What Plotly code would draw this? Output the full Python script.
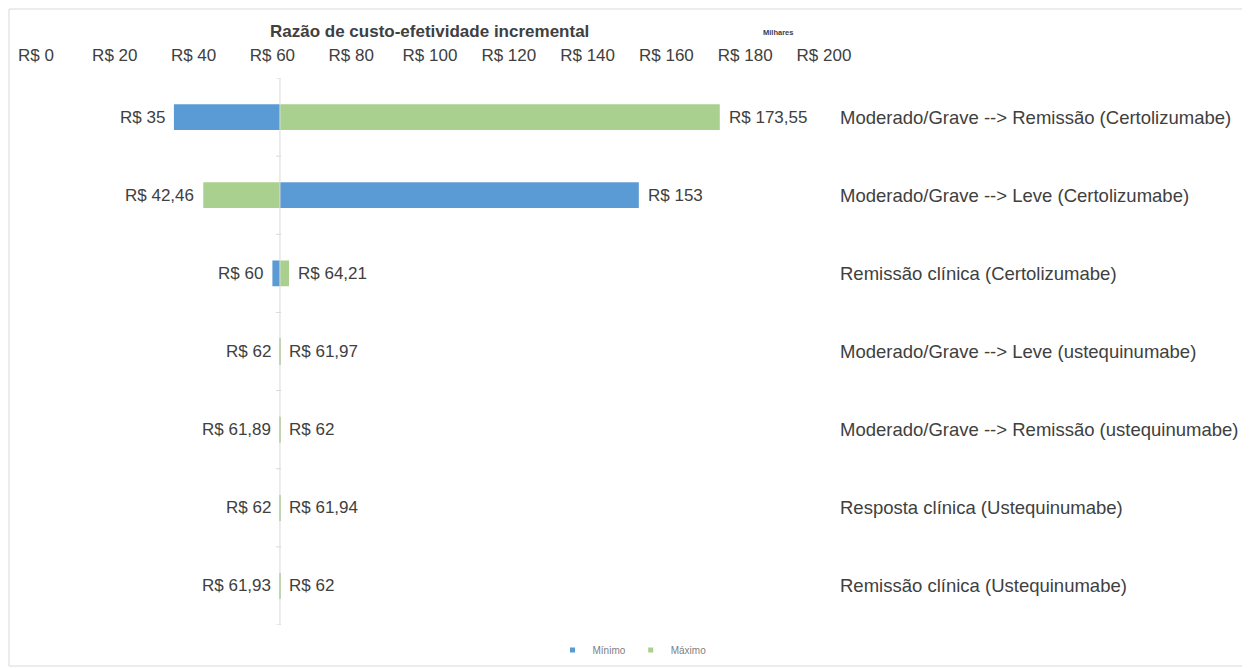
import plotly.graph_objects as go

categorias = [
    "Moderado/Grave --> Remissão (Certolizumabe)",
    "Moderado/Grave --> Leve (Certolizumabe)",
    "Remissão clínica (Certolizumabe)",
    "Moderado/Grave --> Leve (ustequinumabe)",
    "Moderado/Grave --> Remissão (ustequinumabe)",
    "Resposta clínica (Ustequinumabe)",
    "Remissão clínica (Ustequinumabe)",
]
minimo = [35.0, 153.0, 60.0, 62.0, 61.89, 62.0, 61.93]
maximo = [173.55, 42.46, 64.21, 61.97, 62.0, 61.94, 62.0]
minimo_txt = ["R$ 35", "R$ 153", "R$ 60", "R$ 62", "R$ 61,89", "R$ 62", "R$ 61,93"]
maximo_txt = ["R$ 173,55", "R$ 42,46", "R$ 64,21", "R$ 61,97", "R$ 62", "R$ 61,94", "R$ 62"]
base = 61.92
tick_vals = list(range(0, 201, 20))
tick_text = [f"R$ {v}" for v in tick_vals]

FONT = "Liberation Sans, Arial, sans-serif"
BLUE = "#5B9BD5"
GREEN = "#A9D08E"
TXT = "#404040"

OFF = 8  # page body margin
W, H = 1242, 660
ML, MT = 36 - OFF, 78 - OFF
MR = W - (824 - OFF)
MB = H - (625 - OFF)
PW, PH = W - ML - MR, H - MT - MB


def px_x(page_x):
    return (page_x - OFF - ML) / PW


def px_y(page_y):
    return (H - MB - (page_y - OFF)) / PH


fig = go.Figure()
fig.add_trace(go.Bar(
    y=categorias, x=[v - base for v in minimo], base=base, orientation="h",
    name="Mínimo", marker=dict(color=BLUE, line=dict(width=0)), width=0.33,
    hoverinfo="skip", showlegend=False, legendgroup="min"))
fig.add_trace(go.Bar(
    y=categorias, x=[v - base for v in maximo], base=base, orientation="h",
    name="Máximo", marker=dict(color=GREEN, line=dict(width=0)), width=0.33,
    hoverinfo="skip", showlegend=False, legendgroup="max"))
# legend entries with small square markers (Excel-like)
fig.add_trace(go.Scatter(x=[None], y=[None], mode="markers", name="Mínimo",
                         legendgroup="min",
                         marker=dict(symbol="square", size=5, color=BLUE)))
fig.add_trace(go.Scatter(x=[None], y=[None], mode="markers", name="Máximo",
                         legendgroup="max",
                         marker=dict(symbol="square", size=5, color=GREEN)))

ann = []
for i, cat in enumerate(categorias):
    lo = min(minimo[i], maximo[i], base)
    hi = max(minimo[i], maximo[i], base)
    if minimo[i] - base > 1:
        ltxt, rtxt = maximo_txt[i], minimo_txt[i]
    else:
        ltxt, rtxt = minimo_txt[i], maximo_txt[i]
    ann.append(dict(x=lo, y=cat, xref="x", yref="y", text=ltxt, showarrow=False,
                    xanchor="right", xshift=-7, font=dict(family=FONT, size=17, color=TXT)))
    ann.append(dict(x=hi, y=cat, xref="x", yref="y", text=rtxt, showarrow=False,
                    xanchor="left", xshift=7, font=dict(family=FONT, size=17, color=TXT)))
    ann.append(dict(x=px_x(838), y=cat, xref="paper", yref="y", text=cat,
                    showarrow=False, xanchor="left",
                    font=dict(family=FONT, size=18.5, color=TXT)))

ann.append(dict(x=px_x(429), y=px_y(32), xref="paper", yref="paper",
                text="<b>Razão de custo-efetividade incremental</b>", showarrow=False,
                xanchor="center", yanchor="middle",
                font=dict(family=FONT, size=17, color=TXT)))
ann.append(dict(x=px_x(778), y=px_y(33), xref="paper", yref="paper",
                text="<b>Milhares</b>", showarrow=False, xanchor="center", yanchor="middle",
                font=dict(family=FONT, size=7.5, color=TXT)))

shapes = [dict(type="line", xref="x", yref="y", x0=base, x1=base, y0=-0.5, y1=6.5,
               line=dict(color="#d9d9d9", width=1))]
for k in range(8):
    shapes.append(dict(type="line", xref="x", yref="y", x0=base - 1.0, x1=base + 0.3,
                       y0=k - 0.5, y1=k - 0.5, line=dict(color="#d9d9d9", width=1)))
shapes.append(dict(type="rect", xref="paper", yref="paper",
                   x0=px_x(9), x1=px_x(1248), y0=px_y(666), y1=px_y(9),
                   line=dict(color="#d9d9d9", width=1), fillcolor="rgba(0,0,0,0)", layer="below"))

fig.update_layout(
    width=W, height=H,
    margin=dict(l=ML, r=MR, t=MT, b=MB, autoexpand=False),
    paper_bgcolor="white", plot_bgcolor="white",
    barmode="overlay", bargap=0.67,
    font=dict(family=FONT, color=TXT),
    xaxis=dict(side="top", range=[0, 200], tickvals=tick_vals, ticktext=tick_text,
               showgrid=False, zeroline=False, showline=False, ticks="",
               ticklabelstandoff=13, automargin=False,
               tickfont=dict(family=FONT, size=17, color=TXT), fixedrange=True),
    yaxis=dict(categoryorder="array", categoryarray=categorias, range=[6.5, -0.5],
               showticklabels=False, showgrid=False, zeroline=False, showline=False,
               ticks="", fixedrange=True, automargin=False),
    legend=dict(orientation="h", x=px_x(632), xanchor="center",
                y=px_y(650), yanchor="middle",
                font=dict(family=FONT, size=10, color="#808080"),
                bgcolor="rgba(0,0,0,0)", itemwidth=30, tracegroupgap=0),
    annotations=ann, shapes=shapes, showlegend=True,
)

fig.write_html("out.html")
